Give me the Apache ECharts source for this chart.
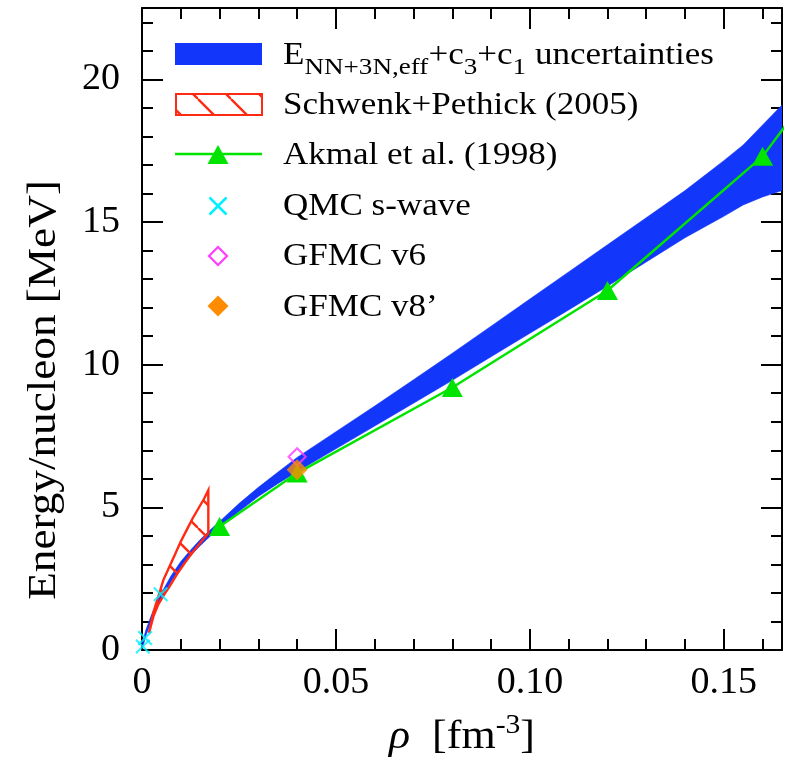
<!DOCTYPE html>
<html>
<head>
<meta charset="utf-8">
<title>Neutron matter energy per nucleon</title>
<script src="https://cdn.jsdelivr.net/npm/echarts@6.0.0/dist/echarts.min.js"></script>
<style>
html, body { margin: 0; padding: 0; background: #ffffff; }
#chart { width: 788px; height: 764px; }
</style>
</head>
<body>
<div id="chart"></div>
<script>
// Chiral EFT band: density (fm^-3), lower and upper energy per nucleon (MeV)
const bandRho  = [0.0002, 0.001, 0.0025, 0.005, 0.0075, 0.01, 0.0125, 0.015, 0.0175, 0.02, 0.025, 0.03, 0.035, 0.04, 0.05, 0.06, 0.07, 0.08, 0.09, 0.10, 0.11, 0.12, 0.13, 0.14, 0.15, 0.155, 0.16, 0.165];
const bandLow  = [0.1, 0.5, 1.05, 1.8, 2.4, 2.9, 3.3, 3.65, 3.98, 4.28, 4.85, 5.38, 5.83, 6.25, 7.05, 7.85, 8.65, 9.45, 10.28, 11.1, 11.92, 12.75, 13.6, 14.45, 15.2, 15.6, 15.88, 16.1];
const bandHigh = [0.3, 0.7, 1.25, 2.0, 2.6, 3.1, 3.5, 3.87, 4.2, 4.5, 5.13, 5.7, 6.23, 6.75, 7.65, 8.55, 9.47, 10.4, 11.35, 12.3, 13.25, 14.2, 15.15, 16.1, 17.15, 17.7, 18.4, 19.1];

// Schwenk+Pethick (2005) region, upper and lower boundaries
const spUpperRho = [0.0018, 0.003, 0.0045, 0.0055, 0.007, 0.0085, 0.010, 0.0115, 0.013, 0.0145, 0.016, 0.0171];
const spUpperE   = [0.6, 1.35, 2.0, 2.45, 2.9, 3.35, 3.8, 4.2, 4.6, 4.95, 5.3, 5.6];
const spLowerRho = [0.0018, 0.003, 0.0042, 0.0055, 0.0072, 0.009, 0.011, 0.013, 0.015, 0.016, 0.0171];
const spLowerE   = [0.6, 1.2, 1.6, 1.9, 2.25, 2.65, 3.05, 3.42, 3.75, 3.92, 4.1];

// Akmal et al. (1998)
const akmalRho = [0.02, 0.04, 0.08, 0.12, 0.16, 0.20];
const akmalE   = [4.33, 6.2, 9.2, 12.6, 17.3, 24.6];

// QMC s-wave
const qmcRho = [0.0002, 0.0008, 0.0048];
const qmcE   = [0.12, 0.42, 1.95];

// GFMC results
const gfmcV6Rho = [0.04];
const gfmcV6E   = [6.77];
const gfmcV8Rho = [0.04];
const gfmcV8E   = [6.32];

// Tick labels
const xTickValues = [0, 0.05, 0.10, 0.15];
const xTickLabels = ['0', '0.05', '0.10', '0.15'];
const yTickValues = [0, 5, 10, 15, 20];
const yTickLabels = ['0', '5', '10', '15', '20'];

// Legend entries (the first one is typeset with subscripts)
const bandLegendParts = [['E', 'main'], ['NN+3N,eff', 'sub'], ['+c', 'main'], ['3', 'sub'], ['+c', 'main'], ['1', 'sub'], [' uncertainties', 'main']];
const legendLabels = ['Schwenk+Pethick (2005)', 'Akmal et al. (1998)', 'QMC s-wave', 'GFMC v6', 'GFMC v8\u2019'];

const BLUE = '#1236fa';
const RED = '#ff2a12';
const GREEN = '#00e400';
const CYAN = '#00f0ff';
const MAGENTA = '#ff3cff';
const ORANGE = '#ff8c00';
const SERIF = '"Liberation Serif", "Times New Roman", serif';

const measureCtx = document.createElement('canvas').getContext('2d');
function widthOf(text, font) {
  measureCtx.font = font;
  return measureCtx.measureText(text).width;
}

// Diagonal hatch tile used for the Schwenk+Pethick region
function hatchTile(size, color, lw) {
  const c = document.createElement('canvas');
  c.width = size; c.height = size;
  const g = c.getContext('2d');
  g.strokeStyle = color;
  g.lineWidth = lw;
  for (let k = -1; k <= 1; k++) {
    g.beginPath();
    g.moveTo(k * size, 0);
    g.lineTo(k * size + size, size);
    g.stroke();
  }
  return c;
}
const hatch = { image: hatchTile(33, RED, 2.4), repeat: 'repeat' };

// A horizontal run of text pieces sharing one baseline
function textRun(parts, x, baseline, scaleX) {
  const children = [];
  let cx = 0;
  parts.forEach(p => {
    const font = (p.italic ? 'italic ' : '') + p.size + 'px ' + SERIF;
    children.push({
      type: 'text', x: cx, y: baseline + (p.dy || 0) - 0.305 * p.size, silent: true,
      style: { text: p.text, font: font, fill: '#000', align: 'left', verticalAlign: 'middle', textAlign: 'left', textVerticalAlign: 'middle' }
    });
    cx += widthOf(p.text, font);
  });
  return { group: { type: 'group', x: x, y: 0, scaleX: scaleX, children: children }, width: cx * scaleX };
}

function tickText(values, labels) {
  return v => {
    const i = values.findIndex(t => Math.abs(t - v) < 1e-9);
    return i < 0 ? '' : labels[i];
  };
}

function frameAxis(extra) {
  return Object.assign({
    type: 'value',
    axisLine: { show: true, onZero: false, lineStyle: { color: '#000', width: 2 } },
    axisTick: { show: true, inside: true, length: 21, lineStyle: { color: '#000', width: 2 } },
    minorTick: { show: true, splitNumber: 5, length: 11, lineStyle: { color: '#000', width: 2 } },
    splitLine: { show: false },
    minorSplitLine: { show: false }
  }, extra);
}

const tickFont = { fontFamily: SERIF, fontSize: 38, color: '#000' };

// ---------- legend, drawn as graphic elements ----------
const graphics = [];
const rowBase = [65, 115, 165.5, 216.5, 266.5, 317];
const symX = 218;
const textX = 283;
const legendScale = 1.13;

graphics.push({ type: 'rect', shape: { x: 175, y: 43, width: 87, height: 22 }, style: { fill: BLUE }, silent: true });
graphics.push({ type: 'rect', shape: { x: 176, y: 94, width: 86, height: 21 }, style: { fill: hatch, stroke: RED, lineWidth: 2 }, silent: true });
graphics.push({ type: 'line', shape: { x1: 175, y1: 154, x2: 262, y2: 154 }, style: { stroke: GREEN, lineWidth: 2.5 }, silent: true });
graphics.push({ type: 'polygon', shape: { points: [[symX, 145], [symX + 10.5, 164], [symX - 10.5, 164]] }, style: { fill: GREEN }, silent: true });
graphics.push({ type: 'line', shape: { x1: symX - 8.5, y1: 197.5, x2: symX + 8.5, y2: 214.5 }, style: { stroke: CYAN, lineWidth: 2.5 }, silent: true });
graphics.push({ type: 'line', shape: { x1: symX - 8.5, y1: 214.5, x2: symX + 8.5, y2: 197.5 }, style: { stroke: CYAN, lineWidth: 2.5 }, silent: true });
graphics.push({ type: 'polygon', shape: { points: [[symX, 247], [symX + 9, 256], [symX, 265], [symX - 9, 256]] }, style: { fill: 'none', stroke: MAGENTA, lineWidth: 2.2 }, silent: true });
graphics.push({ type: 'polygon', shape: { points: [[symX, 295.5], [symX + 10.5, 306], [symX, 316.5], [symX - 10.5, 306]] }, style: { fill: ORANGE }, silent: true });

const bandParts = bandLegendParts.map(p => p[1] === 'sub' ? { text: p[0], size: 24, dy: 10 } : { text: p[0], size: 31 });
graphics.push(textRun(bandParts, textX, rowBase[0], legendScale).group);
legendLabels.forEach((lab, i) => {
  graphics.push(textRun([{ text: lab, size: 31 }], textX, rowBase[i + 1], legendScale).group);
});

// ---------- axis titles ----------
const xTitle = textRun([
  { text: '\u03c1', size: 40, italic: true },
  { text: '  [fm', size: 40 },
  { text: '-3', size: 27, dy: -16 },
  { text: ']', size: 40 }
], 0, 750, 1.1);
xTitle.group.x = 462 - xTitle.width / 2;
graphics.push(xTitle.group);

graphics.push({
  type: 'text', x: 57 - 0.305 * 40, y: 390, rotation: Math.PI / 2, scaleX: 1.13, silent: true,
  style: { text: 'Energy/nucleon [MeV]', font: '40px ' + SERIF, fill: '#000', align: 'center', verticalAlign: 'middle', textAlign: 'center', textVerticalAlign: 'middle' }
});

// ---------- chart ----------
const chart = echarts.init(document.getElementById('chart'), null, { renderer: 'canvas' });

const option = {
  animation: false,
  backgroundColor: '#ffffff',
  grid: { left: 142, right: 6, top: 8, bottom: 114, outerBoundsMode: 'none', containLabel: false },
  xAxis: [
    frameAxis({ position: 'bottom', min: 0, max: 0.165, interval: 0.05,
      axisLabel: Object.assign({ margin: 14, showMaxLabel: false, formatter: tickText(xTickValues, xTickLabels) }, tickFont) }),
    frameAxis({ position: 'top', min: 0, max: 0.165, interval: 0.05, axisLabel: { show: false } })
  ],
  yAxis: [
    frameAxis({ position: 'left', min: 0, max: 22.5, interval: 5,
      axisLabel: Object.assign({ margin: 22, showMaxLabel: false, formatter: tickText(yTickValues, yTickLabels) }, tickFont) }),
    frameAxis({ position: 'right', min: 0, max: 22.5, interval: 5, axisLabel: { show: false } })
  ],
  graphic: { elements: graphics },
  series: [
    {
      type: 'custom', name: 'E NN+3N,eff band', xAxisIndex: 0, yAxisIndex: 0, z: 2, clip: true,
      data: bandRho.map((r, i) => [r, bandLow[i], bandHigh[i]]),
      encode: { x: 0, y: [1, 2] },
      renderItem: (params, api) => {
        if (params.dataIndex !== 0) return { type: 'group', children: [] };
        const pts = [];
        for (let i = 0; i < bandRho.length; i++) pts.push(api.coord([bandRho[i], bandHigh[i]]));
        for (let i = bandRho.length - 1; i >= 0; i--) pts.push(api.coord([bandRho[i], bandLow[i]]));
        return { type: 'polygon', shape: { points: pts }, style: { fill: BLUE, stroke: BLUE, lineWidth: 0.6 } };
      }
    },
    {
      type: 'custom', name: 'Schwenk+Pethick (2005)', xAxisIndex: 0, yAxisIndex: 0, z: 3, clip: true,
      data: spUpperRho.map((r, i) => [r, spUpperE[i]]),
      encode: { x: 0, y: 1 },
      renderItem: (params, api) => {
        if (params.dataIndex !== 0) return { type: 'group', children: [] };
        const pts = [];
        for (let i = 0; i < spUpperRho.length; i++) pts.push(api.coord([spUpperRho[i], spUpperE[i]]));
        for (let i = spLowerRho.length - 1; i >= 0; i--) pts.push(api.coord([spLowerRho[i], spLowerE[i]]));
        return { type: 'polygon', shape: { points: pts }, style: { fill: hatch, stroke: RED, lineWidth: 2.4, lineJoin: 'miter' } };
      }
    },
    {
      type: 'line', name: 'Akmal et al. (1998)', z: 4, clip: true,
      data: akmalRho.map((r, i) => [r, akmalE[i]]),
      symbol: 'triangle', symbolSize: [21, 19], showAllSymbol: true,
      lineStyle: { color: GREEN, width: 2.5 },
      itemStyle: { color: GREEN }
    },
    {
      type: 'scatter', name: 'QMC s-wave', z: 5, clip: true,
      data: qmcRho.map((r, i) => [r, qmcE[i]]),
      symbol: 'path://M2,0 L10,8 L18,0 L20,2 L12,10 L20,18 L18,20 L10,12 L2,20 L0,18 L8,10 L0,2 Z',
      symbolSize: 15,
      itemStyle: { color: CYAN }
    },
    {
      type: 'scatter', name: 'GFMC v6', z: 6, clip: true,
      data: gfmcV6Rho.map((r, i) => [r, gfmcV6E[i]]),
      symbol: 'diamond', symbolSize: 17,
      itemStyle: { color: 'rgba(255,255,255,0)', borderColor: MAGENTA, borderWidth: 2.2 }
    },
    {
      type: 'scatter', name: 'GFMC v8\u2019', z: 7, clip: true,
      data: gfmcV8Rho.map((r, i) => [r, gfmcV8E[i]]),
      symbol: 'diamond', symbolSize: 21,
      itemStyle: { color: ORANGE }
    }
  ]
};

chart.setOption(option);
</script>
</body>
</html>
